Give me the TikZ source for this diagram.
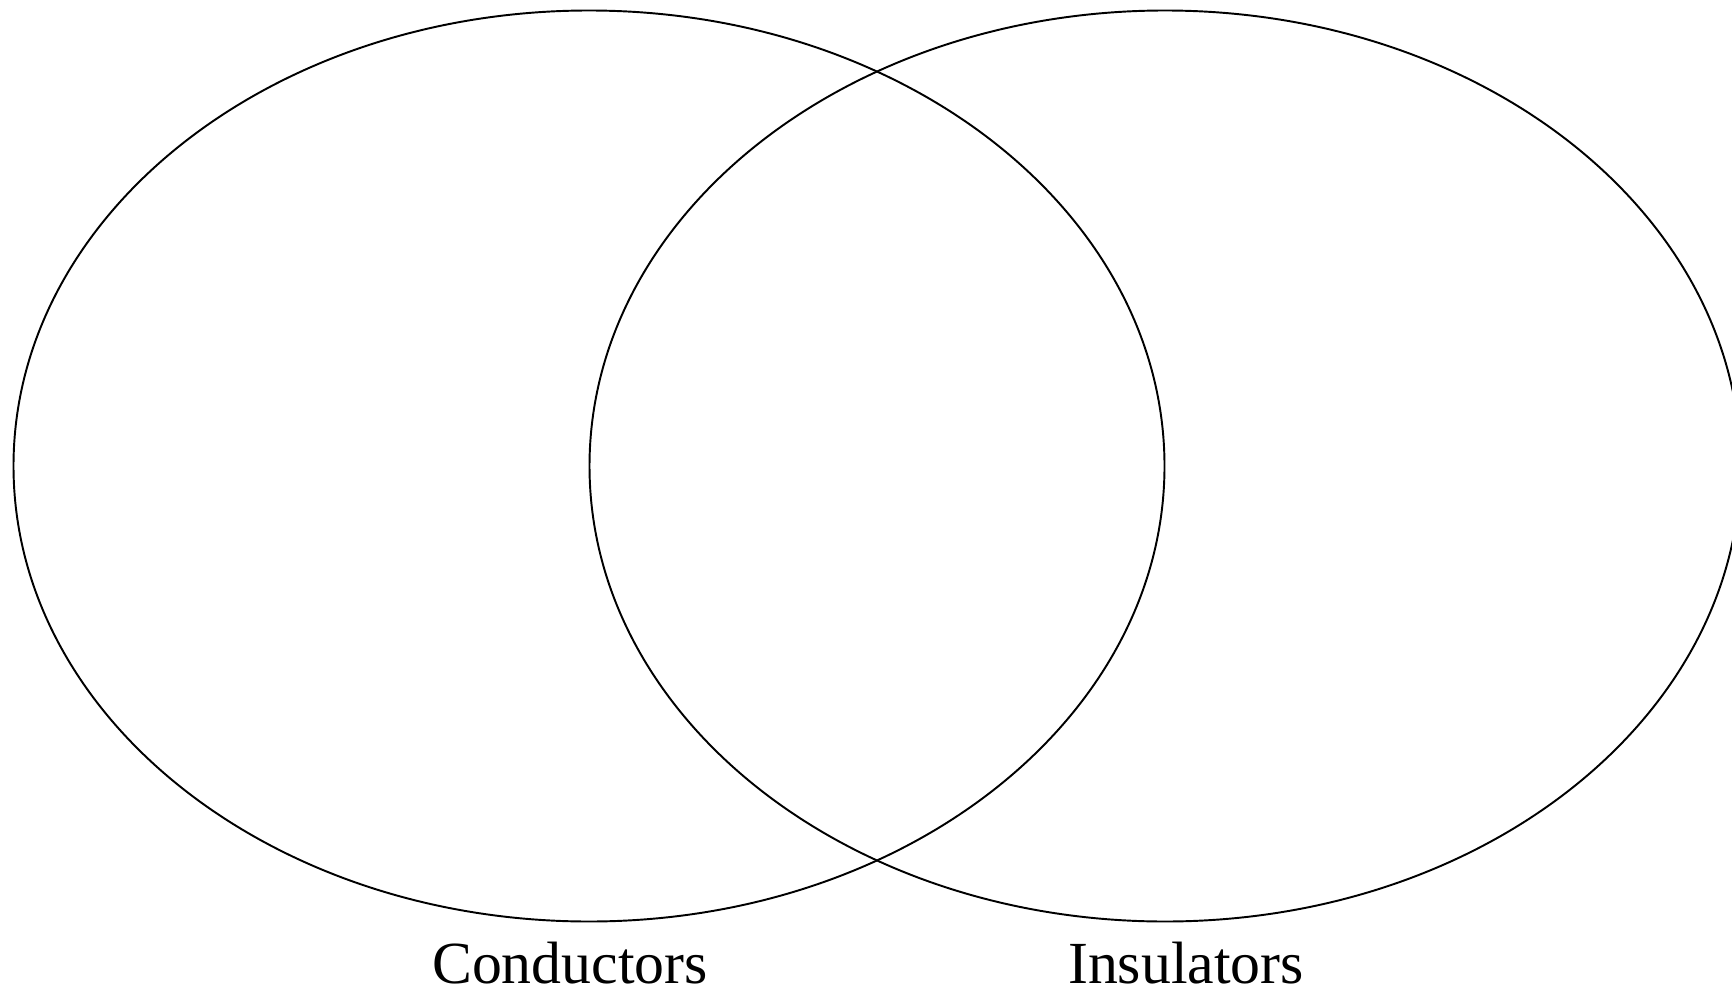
\documentclass[tikz,border=0pt]{standalone}
\usepackage{fontspec}
\setmainfont{Liberation Serif}
\usetikzlibrary{calc}

\begin{document}
\begin{tikzpicture}[scale=1]
\useasboundingbox (0,0) rectangle (34.64,-19.92);
\clip (0,0) rectangle (34.64,-19.92);
\coordinate (A) at (11.78,-9.32); \coordinate (B) at (23.30,-9.32);
\draw[line width=1.1pt] (A) ellipse [x radius=11.51, y radius=9.11];
\draw[line width=1.1pt] (B) ellipse [x radius=11.51, y radius=9.11];
\node[anchor=base, font=\fontsize{34}{40}\selectfont] (cond) at (11.40,-19.66) {Conductors};
\node[anchor=base, font=\fontsize{34}{40}\selectfont] (insul) at (23.72,-19.66) {Insulators};
\end{tikzpicture}
\end{document}
